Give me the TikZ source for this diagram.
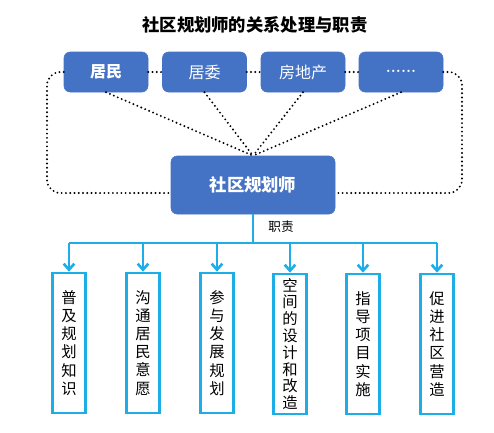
\documentclass[tikz,border=0pt]{standalone}
\usepackage{fontspec}
\newfontfamily\cjk{Noto Sans CJK SC}
\usetikzlibrary{arrows.meta}
\definecolor{boxblue}{HTML}{4472C4}
\definecolor{linkblue}{HTML}{1DAEE8}
\tikzset{
  party/.style={draw=boxblue,fill=boxblue,rounded corners=4.5pt,minimum width=63pt,minimum height=30pt,text=white,font=\cjk\fontsize{12}{14}\selectfont},
  dotline/.style={line width=1.6pt,line cap=round,dash pattern=on 0pt off 3.2pt},
  duty/.style={draw=linkblue,line width=2pt},
  task/.style={draw=linkblue,line width=2pt,fill=white,minimum width=24.75pt,minimum height=105pt,inner sep=0pt,align=center,font=\cjk\fontsize{11.5}{13.6}\selectfont}
}
\begin{document}
\begin{tikzpicture}[x=0.75pt,y=-0.75pt]
\useasboundingbox (0,0) rectangle (494,433);

\node[font=\cjk\bfseries\fontsize{13}{15}\selectfont] (title) at (255,25) {社区规划师的关系处理与职责};

\node[party,font=\cjk\bfseries\fontsize{12}{14}\selectfont] (jm) at (106,72) {居民};
\node[party] (jw) at (204.5,72) {居委};
\node[party] (fdc) at (303,72) {房地产};
\node[party] (more) at (401,72) {\rmfamily\bfseries\raisebox{0.3ex}{......}};
\node[party,minimum width=123pt,minimum height=43.5pt,font=\cjk\bfseries\fontsize{13}{15}\selectfont] (ghs) at (253,185) {社区规划师};

% dotted relations
\coordinate (gl) at (171,193);
\coordinate (gr) at (335,193);
\draw[dotline,rounded corners=10pt] (jm.west) -| (47,193) -- (gl);
\draw[dotline,rounded corners=10pt] (more.east) -| (462,193) -- (gr);
\draw[dotline] (jm.east) -- (jw.west);
\draw[dotline] (jw.east) -- (fdc.west);
\draw[dotline] (fdc.east) -- (more.west);
\draw[dotline] (jm.south) -- (ghs.north);
\draw[dotline] (jw.south) -- (ghs.north);
\draw[dotline] (fdc.south) -- (ghs.north);
\draw[dotline] (more.south) -- (ghs.north);

% duties
\node[task] (r1) at (69,343) {普\\及\\规\\划\\知\\识};
\node[task] (r2) at (143,343) {沟\\通\\居\\民\\意\\愿};
\node[task] (r3) at (217,343) {参\\与\\发\\展\\规\\划};
\node[task,font=\cjk\fontsize{11.5}{12.6}\selectfont] (r4) at (290,344) {空\\间\\的\\设\\计\\和\\改\\造};
\node[task] (r5) at (363,344) {指\\导\\项\\目\\实\\施};
\node[task] (r6) at (437,344) {促\\进\\社\\区\\营\\造};

\coordinate (hub) at (253,243);
\draw[duty] (ghs.south) -- (hub);
\draw[duty] (r1.north |- hub) -- (r6.north |- hub);
\draw[duty,-{Straight Barb[length=4.5pt,width=8pt]}] (r1.north |- hub) -- (r1.north);
\draw[duty,-{Straight Barb[length=4.5pt,width=8pt]}] (r2.north |- hub) -- (r2.north);
\draw[duty,-{Straight Barb[length=4.5pt,width=8pt]}] (r3.north |- hub) -- (r3.north);
\draw[duty,-{Straight Barb[length=4.5pt,width=8pt]}] (r4.north |- hub) -- (r4.north);
\draw[duty,-{Straight Barb[length=4.5pt,width=8pt]}] (r5.north |- hub) -- (r5.north);
\draw[duty,-{Straight Barb[length=4.5pt,width=8pt]}] (r6.north |- hub) -- (r6.north);
\node[font=\cjk\fontsize{9.5}{11}\selectfont] (zz) at (281,227) {职责};
\end{tikzpicture}
\end{document}
